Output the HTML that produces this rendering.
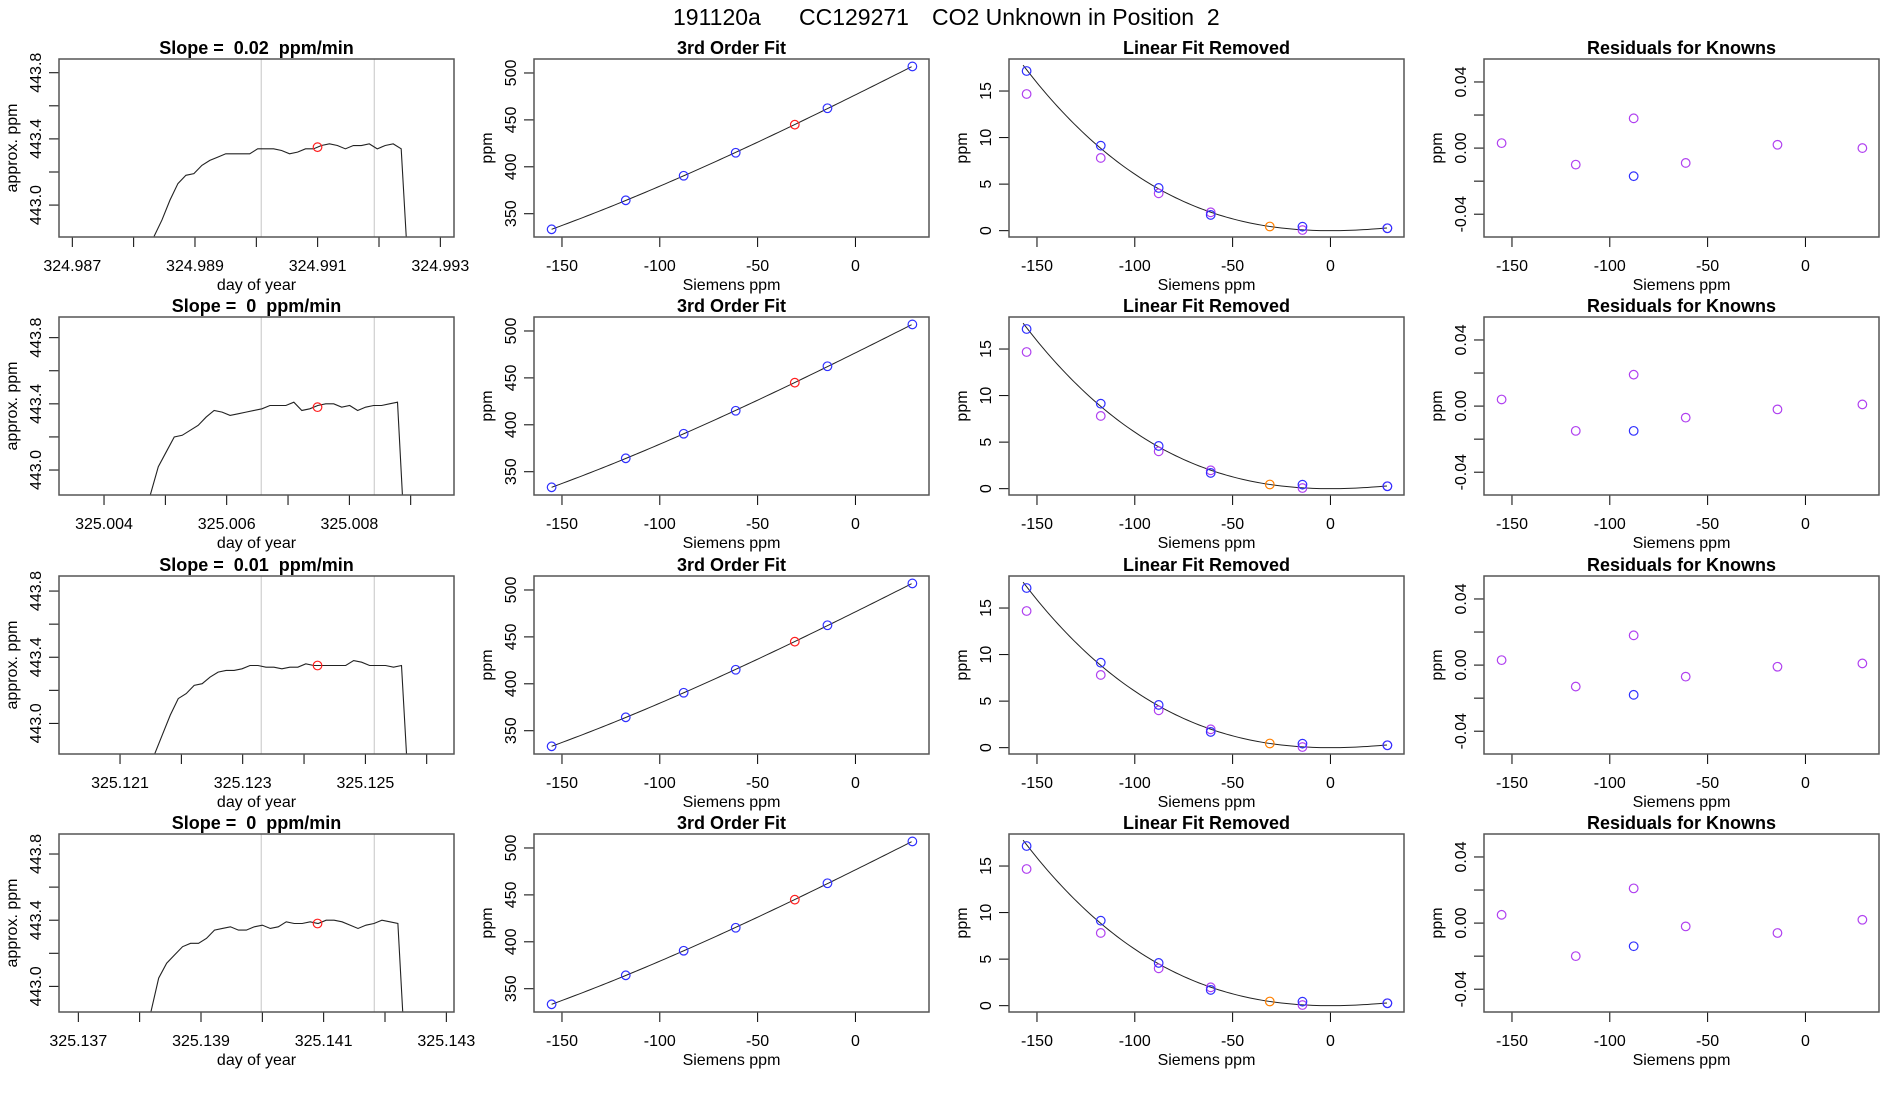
<!DOCTYPE html>
<html><head><meta charset="utf-8"><style>
html,body{margin:0;padding:0;background:#fff;}
svg{display:block;font-family:"Liberation Sans",Arial,sans-serif;}
text{white-space:pre;}
</style></head><body>
<svg id="fig" width="1900" height="1100" viewBox="0 0 1900 1100" xmlns="http://www.w3.org/2000/svg" xml:space="preserve">
<rect width="1900" height="1100" fill="#fff"/>
<text y="25" font-size="23" fill="#000"><tspan x="673">191120a</tspan><tspan x="799">CC129271</tspan><tspan x="932">CO2 Unknown in Position  2</tspan></text>
</svg>
<script>
// ---- data ----
const slopeLabels = ["0.02", "0", "0.01", "0"];
const seriesStart = [324.988332, 325.004755, 325.121559, 325.138180];
const sampleStep = 0.00013;
const trace1 = [442.81,442.91,443.03,443.13,443.18,443.19,443.24,443.27,443.29,443.31,443.31,443.31,443.31,443.34,443.34,443.34,443.33,443.31,443.32,443.34,443.34,443.36,443.37,443.36,443.34,443.36,443.36,443.37,443.34,443.36,443.37,443.34,442.5];
const trace2 = [442.85,443.02,443.11,443.20,443.21,443.24,443.27,443.32,443.36,443.35,443.33,443.34,443.35,443.36,443.37,443.39,443.39,443.39,443.41,443.36,443.37,443.39,443.40,443.40,443.38,443.39,443.36,443.38,443.39,443.39,443.40,443.41,442.5];
const trace3 = [442.81,442.93,443.05,443.15,443.18,443.23,443.24,443.28,443.31,443.32,443.32,443.33,443.35,443.35,443.34,443.34,443.33,443.34,443.34,443.36,443.35,443.35,443.35,443.35,443.35,443.38,443.37,443.35,443.35,443.35,443.34,443.35,442.5];
const trace4 = [442.84,443.05,443.14,443.19,443.24,443.26,443.26,443.29,443.34,443.35,443.36,443.34,443.34,443.36,443.37,443.35,443.36,443.39,443.38,443.38,443.39,443.38,443.40,443.40,443.39,443.37,443.35,443.37,443.38,443.40,443.39,443.38,442.5];
const traces = [trace1, trace2, trace3, trace4];
const xAxisMin = [324.986783, 325.003266, 325.120005, 325.136685];
const xAxisSpan = 0.00644;
const yAxisMax = [443.883, 443.925, 443.891, 443.921];
const yAxisSpan = 1.076;
const windowStart = [324.990081, 325.006564, 325.123303, 325.139983];
const windowEnd = [324.991924, 325.008407, 325.125146, 325.141826];
const unknownTime = [324.990998, 325.007481, 325.124220, 325.140900];
const unknownValue = [443.35, 443.38, 443.35, 443.38];
const xTickFirst = [324.987, 325.004, 325.121, 325.137];
const xTickCount = [7, 6, 6, 7];

const siemens = [-155.3, -117.4, -87.8, -61.2, -14.3, 29.1];
const unknownSiemens = -31.0;
const fitPpm = [333.4, 364.3, 390.5, 415.0, 462.4, 507.0];
const unknownPpm = 444.9;
const fitCoef = [476.7, 1.034, 0.000408, -0.000001988]; // cubic fit
const linRemovedBlue = [17.15, 9.13, 4.59, 1.69, 0.43, 0.26];
const linRemovedPurple = [14.68, 7.81, 4.01, 1.97, 0.07, 0.26];
const unknownLinRemoved = 0.45;
const residPurple = [
  [0.003,-0.010,0.018,-0.009,0.002,0.000],
  [0.004,-0.015,0.019,-0.007,-0.002,0.001],
  [0.003,-0.013,0.018,-0.007,-0.001,0.001],
  [0.005,-0.020,0.021,-0.002,-0.006,0.002]];
const residBlue = [-0.017, -0.015, -0.018, -0.014];
const residBlueIndex = 2;

// ---- drawing ----
const NS = "http://www.w3.org/2000/svg";
const svg = document.getElementById("fig");
function mk(tag, attrs, parent, txt) {
  const e = document.createElementNS(NS, tag);
  for (const k in attrs) e.setAttribute(k, attrs[k]);
  if (txt !== undefined) e.textContent = txt;
  (parent || svg).appendChild(e);
  return e;
}
const W = 395, H = 178;
const lefts = [59, 534, 1009, 1484];
const tops = [59, 317, 576, 834];

function panel(c, r, title, xlab, ylab, name) {
  const g = mk("g", {});
  
  
  const L = lefts[c], T = tops[r];
  const t = mk("text", {x: L + W / 2, y: T - 5, "text-anchor": "middle", "font-size": 18, "font-weight": "bold"}, g, title);
  
  
  const xl = mk("text", {x: L + W / 2, y: T + H + 53, "text-anchor": "middle", "font-size": 16}, g, xlab);
  
  
  const yl = mk("text", {transform: "translate(" + (L - 42) + "," + (T + H / 2) + ") rotate(-90)", "text-anchor": "middle", "font-size": 16}, g, ylab);
  
  
  return {g, L, T};
}
function frame(p) {
  const f = mk("rect", {x: p.L, y: p.T, width: W, height: H, fill: "none", stroke: "#555", "stroke-width": 1.5}, p.g);
  
  
}
function xTicks(p, sx, vals, labels) {
  const ax = mk("line", {x1: sx(vals[0]), x2: sx(vals[vals.length - 1]), y1: p.T + H, y2: p.T + H, stroke: "#000"}, p.g);
  
  
  vals.forEach((v, i) => {
    const x = sx(v);
    const tk = mk("line", {x1: x, x2: x, y1: p.T + H, y2: p.T + H + 10, stroke: "#000"}, p.g);
    
    
    if (labels[i] !== "") {
      const tl = mk("text", {x: x, y: p.T + H + 34, "text-anchor": "middle", "font-size": 16}, p.g, labels[i]);
      
      
    }
  });
}
function yTicks(p, sy, vals, labels) {
  const ax = mk("line", {x1: p.L, x2: p.L, y1: sy(vals[0]), y2: sy(vals[vals.length - 1]), stroke: "#000"}, p.g);
  
  
  vals.forEach((v, i) => {
    const y = sy(v);
    const tk = mk("line", {x1: p.L - 10, x2: p.L, y1: y, y2: y, stroke: "#000"}, p.g);
    
    
    if (labels[i] !== "") {
      const tl = mk("text", {transform: "translate(" + (p.L - 18) + "," + y + ") rotate(-90)", "text-anchor": "middle", "font-size": 16}, p.g, labels[i]);
      
      
    }
  });
}
function circ(p, x, y, col, name) {
  const c = mk("circle", {cx: x, cy: y, r: 4.3, fill: "none", stroke: col, "stroke-width": 1.2}, p.g);
  
  
}
function clip(id, p) {
  const cp = mk("clipPath", {id: id});
  mk("rect", {x: p.L, y: p.T, width: W, height: H}, cp);
}

const sMinX = -164.3, sMaxX = 37.6;
for (let r = 0; r < 4; r++) {
  {
    const p = panel(0, r, "Slope =  " + slopeLabels[r] + "  ppm/min", "day of year", "approx. ppm", "time-series-panel-" + (r + 1));
    const sx = v => p.L + (v - xAxisMin[r]) / xAxisSpan * W;
    const sy = v => p.T + (yAxisMax[r] - v) / yAxisSpan * H;
    clip("c1r" + r, p);
    [windowStart[r], windowEnd[r]].forEach(v => {
      const gl = mk("line", {x1: sx(v), x2: sx(v), y1: p.T, y2: p.T + H, stroke: "#d3d3d3", "stroke-width": 1.3}, p.g);
      
      
    });
    const pts = traces[r].map((v, i) => sx(seriesStart[r] + i * sampleStep).toFixed(2) + "," + sy(v).toFixed(2)).join(" ");
    const pl = mk("polyline", {points: pts, fill: "none", stroke: "#222", "stroke-width": 1.1, "clip-path": "url(#c1r" + r + ")"}, p.g);
    
    
    circ(p, sx(unknownTime[r]), sy(unknownValue[r]), "#ff2020", "unknown-mean-point");
    const xv = [], xlb = [];
    for (let i = 0; i < xTickCount[r]; i++) {
      const v = xTickFirst[r] + i * 0.001;
      xv.push(v); xlb.push(i % 2 === 0 ? v.toFixed(3) : "");
    }
    xTicks(p, sx, xv, xlb);
    yTicks(p, sy, [443.0, 443.2, 443.4, 443.6, 443.8], ["443.0", "", "443.4", "", "443.8"]);
    frame(p);
  }
  {
    const p = panel(1, r, "3rd Order Fit", "Siemens ppm", "ppm", "cubic-fit-panel-" + (r + 1));
    const sx = v => p.L + (v - sMinX) / (sMaxX - sMinX) * W;
    const sy = v => p.T + (514.9 - v) / (514.9 - 325.2) * H;
    const pts = [];
    for (let x = siemens[0]; x <= siemens[siemens.length - 1] + 0.01; x += 2) {
      const y = fitCoef[0] + fitCoef[1] * x + fitCoef[2] * x * x + fitCoef[3] * x * x * x;
      pts.push(sx(x).toFixed(2) + "," + sy(y).toFixed(2));
    }
    const pl = mk("polyline", {points: pts.join(" "), fill: "none", stroke: "#222", "stroke-width": 1}, p.g);
    
    
    siemens.forEach((x, i) => circ(p, sx(x), sy(fitPpm[i]), "#3030ff", "standard-point"));
    circ(p, sx(unknownSiemens), sy(unknownPpm), "#ff2020", "unknown-point");
    xTicks(p, sx, [-150, -100, -50, 0], ["-150", "-100", "-50", "0"]);
    yTicks(p, sy, [350, 400, 450, 500], ["350", "400", "450", "500"]);
    frame(p);
  }
  {
    const p = panel(2, r, "Linear Fit Removed", "Siemens ppm", "ppm", "linear-removed-panel-" + (r + 1));
    const sx = v => p.L + (v - sMinX) / (sMaxX - sMinX) * W;
    const sy = v => p.T + (18.44 - v) / (18.44 + 0.68) * H;
    const pts = [];
    for (let x = -157.1; x <= siemens[siemens.length - 1] + 0.01; x += 2) {
      const y = fitCoef[2] * x * x + fitCoef[3] * x * x * x;
      pts.push(sx(x).toFixed(2) + "," + sy(y).toFixed(2));
    }
    const pl = mk("polyline", {points: pts.join(" "), fill: "none", stroke: "#222", "stroke-width": 1}, p.g);
    
    
    siemens.forEach((x, i) => circ(p, sx(x), sy(linRemovedPurple[i]), "#b040f0", "measured-point"));
    siemens.forEach((x, i) => circ(p, sx(x), sy(linRemovedBlue[i]), "#3030ff", "fitted-point"));
    circ(p, sx(unknownSiemens), sy(unknownLinRemoved), "#ff8000", "unknown-point");
    xTicks(p, sx, [-150, -100, -50, 0], ["-150", "-100", "-50", "0"]);
    yTicks(p, sy, [0, 5, 10, 15], ["0", "5", "10", "15"]);
    frame(p);
  }
  {
    const p = panel(3, r, "Residuals for Knowns", "Siemens ppm", "ppm", "residuals-panel-" + (r + 1));
    const sx = v => p.L + (v - sMinX) / (sMaxX - sMinX) * W;
    const sy = v => p.T + (0.0539 - v) / 0.1077 * H;
    siemens.forEach((x, i) => circ(p, sx(x), sy(residPurple[r][i]), "#b040f0", "residual-point"));
    circ(p, sx(siemens[residBlueIndex]), sy(residBlue[r]), "#3030ff", "residual-highlight-point");
    xTicks(p, sx, [-150, -100, -50, 0], ["-150", "-100", "-50", "0"]);
    yTicks(p, sy, [-0.04, -0.02, 0, 0.02, 0.04], ["-0.04", "", "0.00", "", "0.04"]);
    frame(p);
  }
}
</script>
</body></html>
